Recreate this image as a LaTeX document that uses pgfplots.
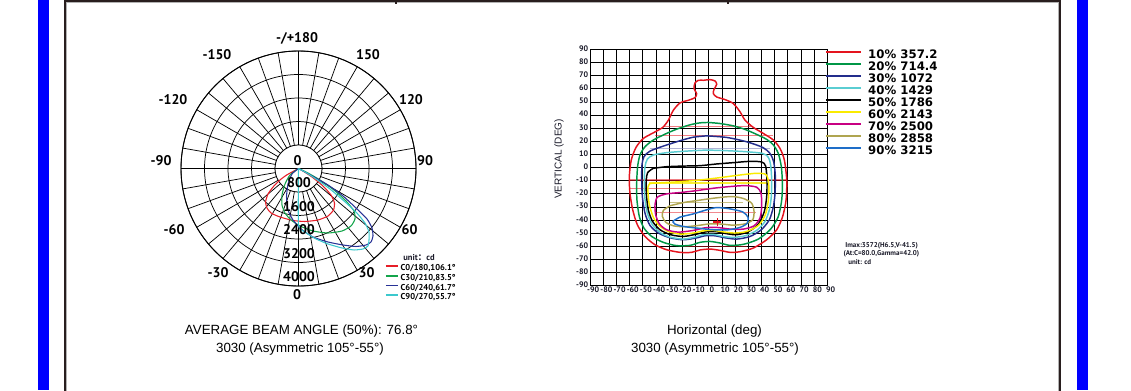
\documentclass[border=0pt]{standalone}
\usepackage{fontspec}
\setmainfont{Liberation Sans}
\newfontfamily\ptsans{PT Sans}
\newfontfamily\dejavu{DejaVu Sans}
\newfontfamily\cjk{Noto Sans CJK SC}
\usepackage{pgfplots}
\pgfplotsset{compat=1.18}
\usepgfplotslibrary{polar}
\definecolor{frame}{RGB}{40,30,30}
\definecolor{pRed}{RGB}{230,30,40}
\definecolor{pGreen}{RGB}{20,165,75}
\definecolor{pNavy}{RGB}{40,50,150}
\definecolor{pCyan}{RGB}{60,200,205}
\definecolor{iRed}{RGB}{228,20,30}
\definecolor{iGreen}{RGB}{0,150,70}
\definecolor{iNavy}{RGB}{35,45,140}
\definecolor{iCyan}{RGB}{90,205,210}
\definecolor{iYellow}{RGB}{250,235,0}
\definecolor{iMagenta}{RGB}{200,0,130}
\definecolor{iOlive}{RGB}{175,165,80}
\definecolor{iBlue}{RGB}{30,110,200}
\definecolor{txt}{RGB}{25,25,40}
\newcommand\polarfont{\ptsans\bfseries\fontsize{10.5}{12}\selectfont}
\begin{document}
\begin{tikzpicture}[x=0.75pt,y=0.75pt]
\path[use as bounding box] (0,0) rectangle (1131,390);
% side bars and frame
\fill[blue] (38,0) rectangle (49,390);
\fill[blue] (1077,0) rectangle (1088,390);
\draw[gray!60, line width=0.5pt] (66.8,-5) -- (66.8,387.6) -- (1058.4,387.6) -- (1058.4,-5);
\draw[frame, line width=1.1pt] (65,-5) -- (65,389) -- (1060,389) -- (1060,-5);
\draw[frame, line width=0.8pt] (396,389) -- (396,386) (728,389) -- (728,386);

% ---------------- polar diagram ----------------
\begin{polaraxis}[
  at={(223.875pt,166.125pt)}, anchor=center,
  scale only axis, width=176.25pt, height=176.25pt,
  ymin=0, ymax=4000,
  xtick={0,10,...,350}, ytick={800,1600,2400,3200,4000},
  xticklabels={}, yticklabels={},
  grid=major, major grid style={black, line width=0.55pt},
  axis line style={black, line width=0.7pt},
  major tick length=0pt,
]
\fill[white] (axis cs:0,0) circle[radius=17.625pt];
\draw[black, line width=0.55pt] (axis cs:0,0) circle[radius=17.625pt];
\draw[black, line width=0.55pt] (axis cs:0,4000) -- (axis cs:180,4000);
\addplot[pRed, line width=0.8pt, smooth, tension=0.35, data cs=cart] coordinates {
(0,0) (-402,-221) (-630,-391) (-858,-620) (-1038,-868) (-1123,-1140) (-1072,-1345) (-936,-1515) (-630,-1651) (-187,-1770) (221,-1804) (664,-1753) (1004,-1617) (1191,-1413) (1225,-1174) (1106,-902) (834,-596) (460,-289) (153,-85) (0,0)};
\addplot[pGreen, line width=0.8pt, smooth, tension=0.35, data cs=cart] coordinates {
(0,0) (-289,-221) (-460,-528) (-562,-902) (-562,-1242) (-460,-1515) (-255,-1753) (51,-1957) (494,-2128) (1004,-2196) (1481,-2128) (1787,-1957) (1923,-1719) (1889,-1447) (1617,-1106) (1208,-732) (732,-391) (289,-136) (0,0)};
\addplot[pNavy, line width=0.8pt, smooth, tension=0.35, data cs=cart] coordinates {
(0,0) (-221,-187) (-357,-528) (-408,-970) (-357,-1413) (-187,-1753) (85,-2059) (494,-2332) (1004,-2502) (1515,-2604) (1957,-2655) (2298,-2604) (2468,-2502) (2536,-2298) (2502,-2025) (2332,-1719) (1957,-1345) (1515,-936) (1004,-562) (528,-289) (221,-119) (0,0)};
\addplot[pCyan, line width=0.8pt, smooth, tension=0.3, data cs=cart] coordinates {
(0,0) (0,-1923) (221,-2162) (562,-2383) (1004,-2570) (1481,-2706) (1889,-2774) (2196,-2740) (2366,-2638) (2400,-2434) (2400,-2162) (2264,-1855) (1957,-1481) (1549,-1106) (1072,-698) (596,-357) (255,-136) (0,0)};
\end{polaraxis}
% legend of the polar curves (same box as the polar axis)
\begin{axis}[
  at={(223.875pt,166.125pt)}, anchor=center,
  scale only axis, width=176.25pt, height=176.25pt,
  hide axis, xmin=0, xmax=1, ymin=0, ymax=1,
  legend style={at={(0.868,0.094)}, anchor=north west, draw=none, fill=none,
    inner sep=0pt, outer sep=0pt, row sep=0pt,
    font=\ptsans\bfseries\fontsize{6.4}{7}\selectfont,
    nodes={inner sep=0pt, text height=5pt, text depth=2.35pt},
    /tikz/every odd column/.append style={column sep=1.5pt}},
  legend cell align=left,
  legend image code/.code={\draw[#1, line width=1.3pt] (0pt,2.2pt) -- (9pt,2.2pt);},
]
\addlegendimage{pRed}
\addlegendentry{C0/180,106.1°}
\addlegendimage{pGreen}
\addlegendentry{C30/210,83.5°}
\addlegendimage{pNavy}
\addlegendentry{C60/240,61.7°}
\addlegendimage{pCyan}
\addlegendentry{C90/270,55.7°}
\end{axis}

\begin{scope}[every node/.style={inner sep=0pt, font=\polarfont, text=black}]
\node at (297,352) {-/+180};
\node at (217,335) {-150};
\node at (368,335) {150};
\node at (173,290) {-120};
\node at (411,290) {120};
\node at (161,229) {-90};
\node at (425,229) {90};
\node at (174,160) {-60};
\node at (409.5,160) {60};
\node at (218,117) {-30};
\node at (366.5,117) {30};
\node at (297,95) {0};
\node at (297.5,229.5) {0};
\node at (299,207) {800};
\node at (299,183.5) {1600};
\node at (299,160) {2400};
\node at (299,136.5) {3200};
\node at (299,113) {4000};
\end{scope}
\node[inner sep=0pt, font=\ptsans\bfseries\fontsize{6.4}{7}\selectfont, text=txt] at (419,132) {unit{\cjk ：}cd};

% ---------------- isolux diagram ----------------
\begin{axis}[
  at={(442.5pt,78.225pt)}, anchor=south west,
  scale only axis, width=178pt, height=177.3pt,
  xmin=-90, xmax=90, ymin=-90, ymax=90,
  xtick={-90,-80,...,90}, ytick={-90,-80,...,90},
  grid=major, major grid style={black, line width=0.5pt},
  axis line style={black, line width=0.6pt},
  major tick length=0pt,
  /pgf/number format/assume math mode=true,
  tick label style={font=\ptsans\bfseries\fontsize{6}{6.5}\selectfont, text=txt},
  xticklabel style={inner sep=0.3pt, xshift=2.4pt},
  yticklabel style={inner sep=1.2pt, yshift=0.6pt},
  legend style={at={(0.990,0.996)}, anchor=north west, draw=none, fill=none,
    inner sep=0pt, outer sep=0pt, row sep=0pt,
    font=\dejavu\bfseries\fontsize{8.8}{9}\selectfont,
    nodes={inner sep=0pt, text height=6.5pt, text depth=2.5pt},
    /tikz/every odd column/.append style={column sep=5pt}},
  legend cell align=left,
  legend image code/.code={\draw[#1, line width=1.2pt] (0pt,3pt) -- (26.25pt,3pt);},
]
% hatching lines of the original chart
\addplot[forget plot, iRed, opacity=0.55, line width=0.8pt] coordinates {(-34.4,31.2) (33.9,31.2)};
\addplot[forget plot, iRed, opacity=0.55, line width=0.8pt] coordinates {(-40.7,24.4) (49.1,24.4)};
\addplot[forget plot, iNavy!60, opacity=0.6, line width=0.8pt] coordinates {(-44.5,14.3) (46.5,14.3)};
\addplot[forget plot, iRed, opacity=0.55, line width=0.8pt] coordinates {(-60,-9.5) (59,-9.5)};
\addplot[forget plot, iRed, opacity=0.55, line width=0.8pt] coordinates {(-60,-16.3) (-1.5,-16.3)};
\addplot[forget plot, iYellow, opacity=0.8, line width=0.8pt] coordinates {(-45,-11.8) (44,-11.8)};
\addplot[forget plot, iOlive, opacity=0.7, line width=0.8pt] coordinates {(-29,-26.4) (26,-26.4)};
\addplot[forget plot, iRed, opacity=0.5, line width=0.8pt] coordinates {(-40,-34.2) (36,-34.2)};
\addplot[forget plot, black, opacity=0.5, line width=0.8pt] coordinates {(-35,-40.5) (30,-40.5)};
\addplot[forget plot, iRed, opacity=0.5, line width=0.8pt] coordinates {(-19,-60.5) (29,-60.5)};
% contours
\addplot[iRed, line width=1.1pt, smooth, tension=0.45] coordinates {
(-4.0,66.4) (1.0,66.9) (4.8,65.9) (6.1,63.3) (4.0,59.3) (3.5,56.3) (6.1,53.7) (12.4,51.7) (18.7,48.7) (23.8,42.4) (27.6,36.0) (33.9,30.5) (41.5,25.9) (49.1,20.9) (54.1,14.5) (57.4,5.7) (59.2,-9.5) (58.7,-24.7) (56.1,-37.3) (51.6,-47.4) (44.0,-55.0) (33.9,-61.3) (23.8,-64.1) (16.2,-64.6) (8.6,-63.1) (1.0,-62.1) (-6.6,-62.8) (-12.9,-64.6) (-21.7,-64.6) (-31.9,-62.6) (-40.7,-58.8) (-48.3,-52.5) (-54.1,-43.6) (-57.6,-32.2) (-59.7,-19.6) (-60.2,-7.0) (-58.7,5.7) (-55.1,15.3) (-49.6,22.1) (-42.0,26.4) (-34.9,30.5) (-30.6,36.0) (-26.8,43.6) (-21.7,49.2) (-15.4,51.2) (-10.4,53.2) (-9.1,56.3) (-11.1,60.0) (-10.4,64.3) (-7.8,66.4) (-4.0,66.4)};
\addlegendentry{10\% 357.2}
\addplot[iGreen, line width=1.1pt, smooth, tension=0.45] coordinates {
(-0.3,34.3) (8.6,33.5) (18.7,31.7) (27.6,29.0) (36.4,25.2) (44.0,21.4) (49.1,17.1) (52.8,10.7) (55.1,0.6) (55.9,-12.0) (55.4,-24.7) (52.8,-37.3) (47.0,-46.9) (37.7,-54.5) (26.3,-58.5) (16.2,-59.3) (8.6,-57.5) (1.0,-56.3) (-6.6,-57.0) (-14.2,-59.3) (-24.3,-59.5) (-34.4,-57.0) (-43.2,-52.5) (-49.1,-46.1) (-52.6,-37.3) (-54.4,-24.7) (-54.6,-12.0) (-53.9,0.6) (-52.1,9.5) (-48.3,15.8) (-42.0,20.9) (-33.1,25.4) (-24.3,29.2) (-14.2,32.5) (-6.6,34.0) (-0.3,34.3)};
\addlegendentry{20\% 714.4}
\addplot[iNavy, line width=1.1pt, smooth, tension=0.45] coordinates {
(-1.5,24.1) (13.7,22.9) (28.8,19.6) (41.0,15.3) (46.5,10.7) (49.3,4.4) (50.6,-7.0) (50.3,-19.6) (49.1,-29.7) (46.0,-39.8) (39.9,-47.4) (31.4,-52.5) (21.2,-54.5) (12.4,-53.5) (4.8,-52.0) (-2.8,-52.0) (-9.6,-53.7) (-19.2,-55.0) (-29.3,-53.5) (-38.2,-49.9) (-44.5,-44.1) (-48.3,-34.8) (-50.3,-22.1) (-50.8,-9.5) (-50.6,1.9) (-49.1,8.2) (-44.5,12.5) (-34.4,16.3) (-21.7,20.4) (-11.6,23.1) (-1.5,24.1)};
\addlegendentry{30\% 1072}
\addplot[iCyan, line width=1.1pt, smooth, tension=0.45] coordinates {
(-1.5,13.3) (13.7,12.8) (28.8,12.0) (41.0,10.7) (45.3,7.7) (47.0,1.9) (47.8,-9.5) (47.5,-22.1) (46.0,-32.2) (42.7,-41.1) (36.4,-47.9) (27.6,-52.0) (18.7,-53.2) (11.1,-52.5) (3.5,-50.9) (-4.0,-51.2) (-10.4,-53.0) (-19.2,-54.5) (-29.3,-53.0) (-36.9,-49.4) (-42.7,-43.6) (-46.5,-34.8) (-48.5,-22.1) (-48.8,-9.5) (-48.3,0.6) (-46.5,6.4) (-42.0,9.5) (-31.9,11.3) (-16.7,12.5) (-1.5,13.3)};
\addlegendentry{40\% 1429}
\addplot[black, line width=1.1pt, smooth, tension=0.45] coordinates {
(-42.0,-0.6) (-31.9,0.6) (-19.2,1.1) (-6.6,1.4) (6.1,2.7) (18.7,3.7) (31.4,4.7) (40.2,4.2) (43.2,1.1) (44.2,-9.5) (44.0,-22.1) (42.2,-33.5) (37.7,-43.1) (30.1,-48.9) (21.2,-51.2) (13.7,-50.4) (6.1,-48.9) (-1.5,-48.9) (-9.1,-50.7) (-19.2,-52.5) (-28.8,-51.2) (-36.9,-47.4) (-42.5,-41.1) (-45.8,-32.2) (-47.3,-19.6) (-47.3,-9.5) (-46.3,-3.9) (-42.0,-0.6)};
\addlegendentry{50\% 1786}
\addplot[iYellow, line width=1.1pt, smooth, tension=0.45] coordinates {
(-44.5,-12.1) (-34.4,-11.5) (-21.7,-10.8) (-6.6,-9.5) (8.6,-7.7) (23.8,-5.7) (36.4,-4.4) (43.5,-5.4) (45.5,-12.0) (45.3,-24.7) (43.0,-36.0) (37.7,-44.1) (28.8,-48.7) (20.0,-49.9) (12.4,-49.2) (3.5,-47.9) (-4.0,-48.2) (-11.6,-49.9) (-21.7,-50.7) (-30.6,-48.7) (-37.4,-44.4) (-42.0,-37.8) (-45.0,-28.4) (-46.0,-19.6) (-46.0,-14.5) (-44.5,-12.1)};
\addlegendentry{60\% 2143}
\addplot[iMagenta, line width=1.1pt, smooth, tension=0.45] coordinates {
(-21.7,-19.1) (-9.1,-17.6) (3.5,-15.8) (16.2,-14.5) (27.6,-13.8) (36.4,-15.0) (39.7,-19.6) (40.2,-29.7) (38.9,-38.6) (34.4,-44.4) (26.3,-46.9) (16.2,-46.9) (6.1,-45.6) (-2.8,-45.9) (-11.6,-47.9) (-23.0,-49.2) (-31.9,-47.4) (-37.4,-42.9) (-40.2,-36.0) (-40.7,-28.4) (-38.9,-22.6) (-31.9,-20.1) (-21.7,-19.1)};
\addlegendentry{70\% 2500}
\addplot[iOlive, line width=1.1pt, smooth, tension=0.45] coordinates {
(-29.3,-29.1) (-19.2,-26.7) (-9.1,-25.2) (3.5,-23.4) (17.4,-22.1) (26.3,-23.6) (32.6,-27.2) (34.4,-33.5) (33.4,-39.8) (27.6,-42.9) (18.7,-43.9) (9.9,-43.1) (1.0,-42.9) (-7.8,-44.1) (-18.0,-45.1) (-26.8,-44.4) (-32.4,-41.8) (-35.1,-37.3) (-34.4,-32.7) (-29.3,-29.1)};
\addlegendentry{80\% 2858}
\addplot[iBlue, line width=1.1pt, smooth, tension=0.45] coordinates {
(-27.3,-41.1) (-21.7,-37.8) (-11.6,-35.3) (-1.5,-32.2) (6.1,-30.5) (16.2,-31.5) (25.8,-33.8) (29.8,-37.8) (29.3,-42.4) (23.8,-45.6) (14.9,-47.4) (3.5,-47.4) (-9.1,-46.1) (-19.2,-44.9) (-25.5,-43.1) (-27.3,-41.1)};
\addlegendentry{90\% 3215}
\addplot[forget plot, iRed, only marks, mark=+, mark size=3pt, line width=0.8pt] coordinates {(6.5,-41.5)};
\end{axis}

\node[rotate=90, inner sep=0pt, font=\fontsize{7.5}{9}\selectfont, text=txt] at (559,231) {VERTICAL (DEG)};
\begin{scope}[every node/.style={inner sep=0pt, anchor=west, font=\ptsans\bfseries\fontsize{5.25}{6}\selectfont, text=txt}]
\node at (845,144.3) {Imax:3572(H6.5,V-41.5)};
\node at (843.3,136) {(At:C=80.0,Gamma=42.0)};
\node at (848,127.7) {unit: cd};
\end{scope}

% bottom captions
\begin{scope}[every node/.style={inner sep=0pt, font=\fontsize{10}{12}\selectfont, text=black}]
\node at (301.5,59) {AVERAGE BEAM ANGLE (50\%): 76.8°};
\node at (300,41) {3030 (Asymmetric 105°-55°)};
\node at (714.5,59) {Horizontal (deg)};
\node at (715,41) {3030 (Asymmetric 105°-55°)};
\end{scope}
\end{tikzpicture}
\end{document}
